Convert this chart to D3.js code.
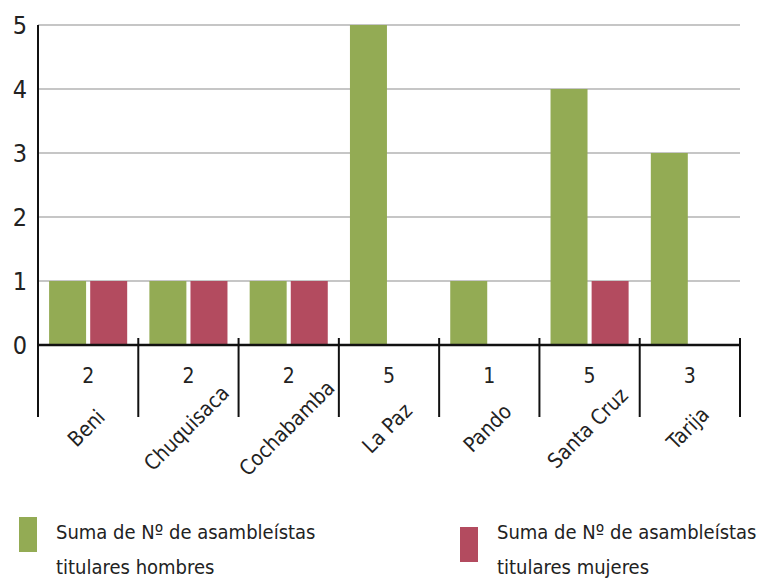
<!DOCTYPE html>
<html>
<head>
<meta charset="utf-8">
<script src="https://cdn.jsdelivr.net/npm/d3@7"></script>
<style>
  body { margin: 0; background: #fff; }
  text { font-family: "DejaVu Sans Condensed", "Liberation Sans Narrow", "Open Sans", sans-serif; fill: #222; }
</style>
</head>
<body>
<div id="chart"></div>
<script>
var svgWidth = 771;
var svgHeight = 583;

var departamentos = ['Beni', 'Chuquisaca', 'Cochabamba', 'La Paz', 'Pando', 'Santa Cruz', 'Tarija'];
var hombres = [1, 1, 1, 5, 1, 4, 3];
var mujeres = [1, 1, 1, 0, 0, 1, 0];
var totales = [2, 2, 2, 5, 1, 5, 3];
var yTicks = [0, 1, 2, 3, 4, 5];
var series = ['hombres', 'mujeres'];
var seriesLabels = [['Suma de Nº de asambleístas', 'titulares hombres'],
                    ['Suma de Nº de asambleístas', 'titulares mujeres']];
var colors = ['#93ab54', '#b34b5f'];

var chartLeft = 38, chartRight = 740, chartTop = 25, chartBottom = 345;
var dividerBottom = 417;

var svg = d3.select('#chart')
    .append('svg')
    .attr('width', svgWidth)
    .attr('height', svgHeight);

var xScale = d3.scaleBand()
    .domain(departamentos)
    .range([chartLeft, chartRight])
    .padding(0);

var xSub = d3.scaleBand()
    .domain(series)
    .range([0, xScale.bandwidth()])
    .paddingInner(0.1)
    .paddingOuter(0.27);

var yScale = d3.scaleLinear()
    .domain([0, 5])
    .range([chartBottom, chartTop]);

// gridlines
svg.append('g')
    .selectAll('line')
    .data(yTicks.filter(d => d > 0))
    .enter()
    .append('line')
    .attr('x1', chartLeft)
    .attr('x2', chartRight)
    .attr('y1', d => yScale(d))
    .attr('y2', d => yScale(d))
    .attr('stroke', '#b3b3b3')
    .attr('stroke-width', 1.5);

// y tick labels
svg.append('g')
    .selectAll('text')
    .data(yTicks)
    .enter()
    .append('text')
    .attr('x', 20)
    .attr('y', d => yScale(d) + 9)
    .attr('text-anchor', 'middle')
    .attr('font-size', 25)
    .text(d => d);

// bars
var rows = departamentos.map((d, i) => ({dep: d, hombres: hombres[i], mujeres: mujeres[i]}));

svg.append('g')
    .selectAll('g')
    .data(rows)
    .enter()
    .append('g')
    .attr('transform', d => `translate(${xScale(d.dep)}, 0)`)
    .selectAll('rect')
    .data(d => series.map((s, j) => ({key: s, value: d[s], color: colors[j]})))
    .enter()
    .append('rect')
    .attr('x', d => xSub(d.key))
    .attr('width', xSub.bandwidth())
    .attr('y', d => yScale(d.value))
    .attr('height', d => yScale(0) - yScale(d.value))
    .attr('fill', d => d.color);

// y axis line (continues down as first divider)
svg.append('line')
    .attr('x1', chartLeft).attr('x2', chartLeft)
    .attr('y1', chartTop).attr('y2', dividerBottom)
    .attr('stroke', '#111')
    .attr('stroke-width', 2);

// x axis line
svg.append('line')
    .attr('x1', chartLeft).attr('x2', chartRight)
    .attr('y1', yScale(0)).attr('y2', yScale(0))
    .attr('stroke', '#111')
    .attr('stroke-width', 2.5);

// category dividers
svg.append('g')
    .selectAll('line')
    .data(departamentos)
    .enter()
    .append('line')
    .attr('x1', d => xScale(d) + xScale.bandwidth())
    .attr('x2', d => xScale(d) + xScale.bandwidth())
    .attr('y1', yScale(0) - 7)
    .attr('y2', dividerBottom)
    .attr('stroke', '#111')
    .attr('stroke-width', 2);

// totals under axis
svg.append('g')
    .selectAll('text')
    .data(departamentos)
    .enter()
    .append('text')
    .attr('x', d => xScale(d) + xScale.bandwidth() / 2)
    .attr('y', 383)
    .attr('text-anchor', 'middle')
    .attr('font-size', 21)
    .text((d, i) => totales[i]);

// rotated category labels
svg.append('g')
    .selectAll('text')
    .data(departamentos)
    .enter()
    .append('text')
    .attr('transform', d => `translate(${xScale(d) + xScale.bandwidth() / 2 - 2}, 428) rotate(-45)`)
    .attr('text-anchor', 'middle')
    .attr('dy', '0.35em')
    .attr('font-size', 21)
    .text(d => d);

// legend
var legendX = [19, 460];
var legendBoxY = [517, 527];

var legend = svg.append('g');

legend.selectAll('rect')
    .data(series)
    .enter()
    .append('rect')
    .attr('x', (d, i) => legendX[i])
    .attr('y', (d, i) => legendBoxY[i])
    .attr('width', 18)
    .attr('height', 35)
    .attr('fill', (d, i) => colors[i]);

var legendText = legend.selectAll('text')
    .data(series)
    .enter()
    .append('text')
    .attr('font-size', 20);

for (var k = 0; k < 2; k++) {
    legendText.append('tspan')
        .attr('x', (d, i) => legendX[i] + 37)
        .attr('y', 539 + 35 * k)
        .text((d, i) => seriesLabels[i][k]);
}
</script>
</body>
</html>
